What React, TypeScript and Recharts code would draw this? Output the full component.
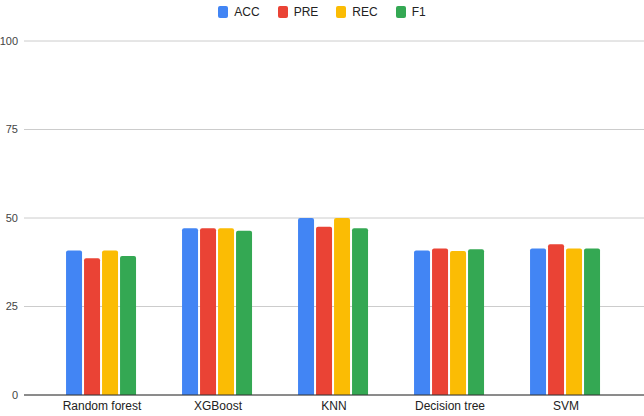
import { BarChart, Bar, XAxis, YAxis, CartesianGrid, Legend } from "recharts";

const models = ["Random forest", "XGBoost", "KNN", "Decision tree", "SVM"];
const acc = [40.8, 47.1, 50, 40.8, 41.4];
const pre = [38.6, 47.1, 47.5, 41.4, 42.6];
const rec = [40.8, 47.1, 50, 40.7, 41.4];
const f1 = [39.3, 46.4, 47.1, 41.2, 41.4];
const yTicks = [0, 25, 50, 75, 100];

const series = [
  { key: "ACC", color: "#4285F4" },
  { key: "PRE", color: "#EA4335" },
  { key: "REC", color: "#FBBC04" },
  { key: "F1", color: "#34A853" },
];

const font = "Arial, 'Liberation Sans', sans-serif";

function LegendRow() {
  return (
    <div style={{ display: "flex", justifyContent: "center", gap: 18, height: 20, fontFamily: font, fontSize: 12, color: "#222" }}>
      {series.map((s) => (
        <div key={s.key} style={{ display: "flex", alignItems: "center", gap: 6 }}>
          <span style={{ width: 10, height: 12, background: s.color, borderRadius: 2, display: "inline-block" }} />
          <span>{s.key}</span>
        </div>
      ))}
    </div>
  );
}

export default function App() {
  const data = models.map((name, i) => ({ name, ACC: acc[i], PRE: pre[i], REC: rec[i], F1: f1[i] }));

  return (
    <div style={{ width: 644, height: 416, background: "#fff" }}>
      <style>{"body{margin:0}"}</style>
      <BarChart
        width={644}
        height={416}
        data={data}
        margin={{ top: 21, right: 0, bottom: 0, left: 0 }}
        barCategoryGap="19%"
        barGap={2}
      >
        <Legend verticalAlign="top" content={() => <LegendRow />} wrapperStyle={{ top: 2 }} />
        <CartesianGrid vertical={false} stroke="#cccccc" />
        <XAxis
          dataKey="name"
          height={21}
          padding={{ left: 20, right: 20 }}
          tickLine={false}
          axisLine={{ stroke: "#333333" }}
          tick={{ fill: "#222", fontSize: 12, fontFamily: font }}
          tickMargin={0}
        />
        <YAxis
          width={24}
          domain={[0, 100]}
          ticks={yTicks}
          axisLine={false}
          tickLine={false}
          tick={{ fill: "#444", fontSize: 11, fontFamily: font }}
          tickMargin={0}
        />
        {series.map((s) => (
          <Bar key={s.key} dataKey={s.key} fill={s.color} radius={[2, 2, 0, 0]} isAnimationActive={false} />
        ))}
      </BarChart>
    </div>
  );
}
